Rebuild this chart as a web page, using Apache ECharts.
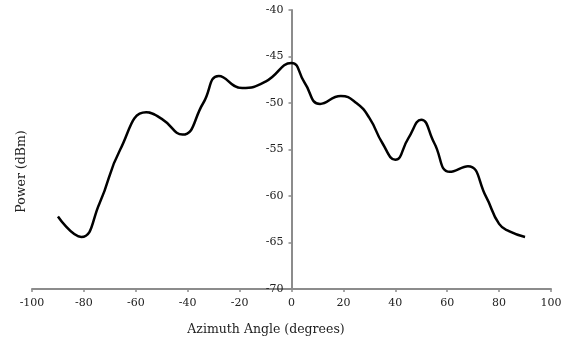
<!DOCTYPE html>
<html><head><meta charset="utf-8">
<script src="https://cdn.jsdelivr.net/npm/echarts@6/dist/echarts.min.js"></script>
<style>html,body{margin:0;padding:0;background:#fff}#c{width:565px;height:343px}</style>
</head><body><div id="c"></div>
<script>
var angles = [-90,-81,-74,-66,-56,-50,-42,-34,-28,-19,-10,0,5,11,19,25,30,35,40,45,50,55,61,68,75,80,84,90];
var power = [-62.2,-64.4,-60.8,-55.0,-51.0,-51.7,-53.4,-50.0,-47.1,-48.4,-47.7,-45.7,-47.8,-50.1,-49.25,-50.0,-51.6,-54.3,-56.1,-53.8,-51.8,-54.3,-57.4,-56.8,-60.1,-63.0,-63.8,-64.4];
var xTicks = {min: -100, max: 100, step: 20};
var yTicks = {min: -70, max: -40, step: 5};
var xTitle = 'Azimuth Angle (degrees)';
var yTitle = 'Power (dBm)';

var chart = echarts.init(document.getElementById('c'));
var font = 'DejaVu Serif';
var axisColor = '#8c8c8c';
var gridLeft = 32, gridRight = 14;
var plotW = 565 - gridLeft - gridRight;
chart.setOption({
  animation: false,
  grid: {left: gridLeft, right: gridRight, top: 10, bottom: 54, containLabel: false},
  xAxis: {
    type: 'value', min: xTicks.min, max: xTicks.max, interval: xTicks.step,
    name: xTitle, nameLocation: 'middle', nameGap: 34,
    nameTextStyle: {fontFamily: font, fontSize: 12.5, color: '#222', padding: [0, 51, 0, 0]},
    axisLine: {onZero: false, lineStyle: {color: axisColor, width: 2}},
    axisTick: {show: true, length: 3, lineStyle: {color: axisColor, width: 1.5}},
    axisLabel: {fontFamily: font, fontSize: 11, color: '#222', margin: 9},
    splitLine: {show: false}
  },
  yAxis: {
    type: 'value', min: yTicks.min, max: yTicks.max, interval: yTicks.step,
    offset: -plotW * (0 - xTicks.min) / (xTicks.max - xTicks.min),
    axisLine: {onZero: false, lineStyle: {color: axisColor, width: 2}},
    axisTick: {show: true, length: 3, lineStyle: {color: axisColor, width: 1.5}},
    axisLabel: {fontFamily: font, fontSize: 11, color: '#222', margin: 8},
    splitLine: {show: false}
  },
  graphic: [{
    type: 'text', left: 15, top: 'middle', rotation: Math.PI / 2,
    style: {text: yTitle, font: '12.5px "DejaVu Serif"', fill: '#222'}
  }],
  series: [{
    type: 'line', data: angles.map(function (a, i) { return [a, power[i]]; }),
    smooth: 0.5, showSymbol: false,
    lineStyle: {color: '#000', width: 2.5}
  }]
});
</script></body></html>
